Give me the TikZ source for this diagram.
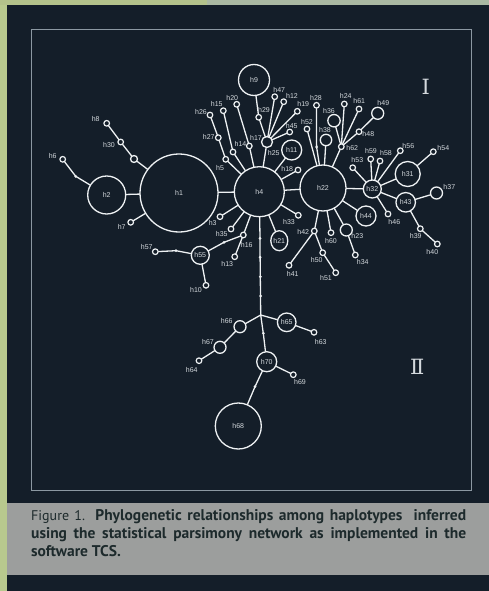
\documentclass[tikz,border=0pt]{standalone}
\usepackage{fontspec}
\setmainfont{Liberation Sans}
\newfontfamily\capfont{PT Sans}
\newfontfamily\numfont{DejaVu Serif}
\usetikzlibrary{shapes.geometric}
\pgfdeclarelayer{bottom}
\pgfdeclarelayer{edges}
\pgfsetlayers{bottom,edges,main}
\definecolor{bg}{HTML}{141E29}
\definecolor{lc}{HTML}{EEF1F3}
\definecolor{labc}{HTML}{D4D9DD}
\definecolor{framec}{HTML}{8C98A2}
\definecolor{bandc}{HTML}{9C9E9D}
\definecolor{capc}{HTML}{1D2A2C}
\definecolor{stripg}{HTML}{B8C98E}
\definecolor{stripa}{HTML}{B3C28B}
\definecolor{stripb}{HTML}{AAB8A2}
\newcommand\labfont{\fontsize{7}{8}\selectfont}
\tikzset{
  hp/.style={circle, draw=lc, line width=1.3pt, fill=bg, inner sep=0pt, minimum size=#1, text=labc, font=\labfont},
  sm/.style={circle, draw=lc, line width=1.2pt, fill=bg, inner sep=0pt, minimum size=5.6pt},
  dt/.style={circle, fill=lc, inner sep=0pt, minimum size=3pt},
  lab/.style={font=\labfont, text=labc, inner sep=0pt},
  ed/.style={draw=lc, line width=1.3pt},
  numeral/.style={text=labc, font=\numfont\fontsize{21}{21}\selectfont, inner sep=0pt},
}
\begin{document}
\begin{tikzpicture}[x=1pt,y=-1pt]
\useasboundingbox (0,0) rectangle (489,591);
% background
\begin{pgfonlayer}{bottom}
\fill[bg] (0,0) rectangle (489,591);
\fill[stripg] (0,0) rectangle (7,591);
\fill[stripa] (0,0) rectangle (207,5);
\fill[stripb] (207,0) rectangle (489,5);
\fill[bandc] (7,503) rectangle (489,575);
\draw[framec, line width=0.8pt] (31,29) rectangle (471,490);
\end{pgfonlayer}

% large / labelled-inside haplotypes
\node[hp=78pt] (h1) at (179,193) {h1};
\node[hp=38pt] (h2) at (106.7,195) {h2};
\node[hp=50pt] (h4) at (259.3,191.7) {h4};
\node[hp=46pt] (h22) at (323,188) {h22};
\node[hp=31pt] (h9) at (254,80) {h9};
\node[hp=46pt] (h68) at (238.3,426) {h68};
\node[hp=20pt] (h11) at (291.7,150) {h11};
\node[ellipse, draw=lc, line width=1.3pt, fill=bg, inner sep=0pt, minimum width=17pt, minimum height=20pt, text=labc, font=\labfont] (h21) at (279.3,240.7) {h21};
\node[hp=25pt] (h31) at (407.7,174) {h31};
\node[hp=19.5pt] (h43) at (405.7,202.3) {h43};
\node[hp=18pt] (h32) at (372.3,189) {h32};
\node[hp=20pt] (h44) at (366,216) {h44};
\node[hp=18pt] (h55) at (200.3,255.3) {h55};
\node[hp=18.6pt] (h65) at (286.7,322.3) {h65};
\node[hp=20pt] (h70) at (266.7,361.7) {h70};

% medium circles
\node[hp=11pt] (h17) at (267,142) {};
\node[hp=12.4pt] (h36) at (334,120.7) {};
\node[hp=11.4pt] (h38) at (326,140) {};
\node[hp=12pt] (h49) at (377.7,113.3) {};
\node[hp=12pt] (h37) at (436.5,193) {};
\node[hp=12pt] (h23) at (346.3,230) {};
\node[hp=12pt] (h66) at (240,326.7) {};
\node[hp=12pt] (h67) at (220,347.3) {};
\node[hp=7pt] (u1) at (134,159) {};

% small circles
\foreach \n/\x/\y in {h8/106.7/123.3, h30/120.7/142, h6/62.7/159.3, h7/130.7/222.3,
  h26/210/115, h15/223.3/110.7, h27/218.3/137.7, h5/225.7/159.3, u2/233/152,
  h20/236.7/104.3, h14/249.3/146, h29/258.7/117.3, h47/274.7/96.7, h12/283.7/101.7,
  h19/297.3/111.3, h45/289.7/132, h18/298/170, h28/316.5/105.3, h52/307/129,
  h24/344.3/104, h61/359/109, h48/359/131.7, h62/341.3/146.7, h53/352.7/167.7,
  h59/370.7/159, h58/380/161, h56/400.3/150.7, h54/433.3/151.7, h46/388/214,
  h39/420.3/228.7, h40/437.3/244, h33/298.3/215.3, h42/314.3/231, h60/331/232.7,
  h34/355.3/255, h50/322.7/252.7, h51/335.7/272.7, h41/289/265.3, h3/220/216.7,
  h35/231/229, h16/243.3/235, h13/234.7/256.7, h57/155.3/251.7, h10/206/285.3,
  h63/314/332.3, h64/199/360.7, h69/293.3/374.7}
  \node[sm] (\n) at (\x,\y) {};

% intermediate dots
\foreach \n/\x/\y in {d1/75.7/176.3, d2/224/242.3, d3/176/250.7, v1/260/238.3,
  v2/260.1/257.3, v3/260.3/276.7, v4/260.5/296, d4/263.3/333.3, d5/255/386.7,
  d6/316.6/147}
  \node[dt] (\n) at (\x,\y) {};
\coordinate (j) at (260.7,315);

% connectors (centre to centre, under the filled circles)
\begin{pgfonlayer}{edges}
\foreach \a/\b in {h6/d1, d1/h2, h2/h1, h1/u1, u1/h30, h30/h8, h1/h7, h1/h4,
  h26/h27, h27/h5, h5/h4, h15/u2, u2/h4, h20/h14, h14/h4,
  h9/h29, h29/h17, h17/h4, h17/h47, h17/h12, h17/h19, h17/h45,
  h11/h4, h18/h4, h4/h22, h4/h3, h4/h35, h4/h16, h16/h13, h16/d2, d2/h55,
  h55/d3, d3/h57, h55/h10, h4/h21, h4/h33,
  h4/v1, v1/v2, v2/v3, v3/v4, v4/j, j/h65, h65/h63, j/h66, h66/h67, h67/h64,
  j/d4, d4/h70, h70/h69, h70/d5, d5/h68,
  h22/d6, d6/h28, h22/h52, h22/h38, h22/h62, h62/h36, h62/h24, h62/h61,
  h62/h48, h48/h49,
  h22/h32, h22/h44, h22/h23, h23/h34, h22/h60, h22/h42, h42/h41, h42/h50, h50/h51,
  h32/h53, h32/h59, h32/h58, h32/h56, h32/h31, h31/h54, h32/h43, h32/h46,
  h43/h37, h43/h39, h39/h40}
  \draw[ed] (\a.center) -- (\b.center);
\end{pgfonlayer}

% outside labels
\foreach \n/\x/\y in {h8/95.7/119.3, h30/109/145, h6/52.7/155.7, h7/121.7/226.7,
  h26/201/112, h15/216.7/104, h27/208.7/137, h5/220/168, h20/232.3/97.7,
  h14/240.5/144.3, h29/264/110, h17/256/137.7, h47/279.3/90, h12/292/95.7,
  h19/303.3/104.3, h45/291.7/126, h25/273.7/152.7, h18/287.3/169.3, h28/316/98,
  h52/307/122, h38/325/130, h36/329/111, h24/345.7/96, h61/359.3/101.3,
  h49/383.3/103.3, h48/368.3/133.7, h62/352.3/148.3, h53/357.3/160, h59/371/151.3,
  h58/386/153.3, h56/408.3/146, h54/443.3/148, h37/449.3/187.3, h46/394.3/222,
  h39/415.7/236, h40/432.3/252, h33/289/221.7, h42/303.3/232, h60/331/241.3,
  h23/357.3/236, h34/362.7/262, h50/316.7/260.3, h51/326/278, h41/292.7/274,
  h3/212.7/222.7, h35/221.7/234.3, h16/246.7/245, h13/227.3/264.3, h57/146.7/246.7,
  h10/196/290, h66/226.7/320.7, h67/208/341.7, h64/191.7/370, h63/320.7/342.3,
  h69/300/382}
  \node[lab] (l\n) at (\x,\y) {\n};

% group numerals
\node[numeral] (gI) at (425.7,86.7) {Ⅰ};
\node[numeral] (gII) at (417.3,366.7) {Ⅱ};

% caption
\node[anchor=north west, text width=435pt, align=justify, inner sep=0pt, text=capc,
  font=\capfont\bfseries\fontsize{15.5}{18}\selectfont] (cap) at (31,509.5)
  {{\mdseries\fontsize{14}{18}\selectfont Figure 1.} Phylogenetic relationships among haplotypes\ \ inferred\linebreak using the statistical parsimony network as implemented in the\linebreak software TCS.};
\end{tikzpicture}
\end{document}
